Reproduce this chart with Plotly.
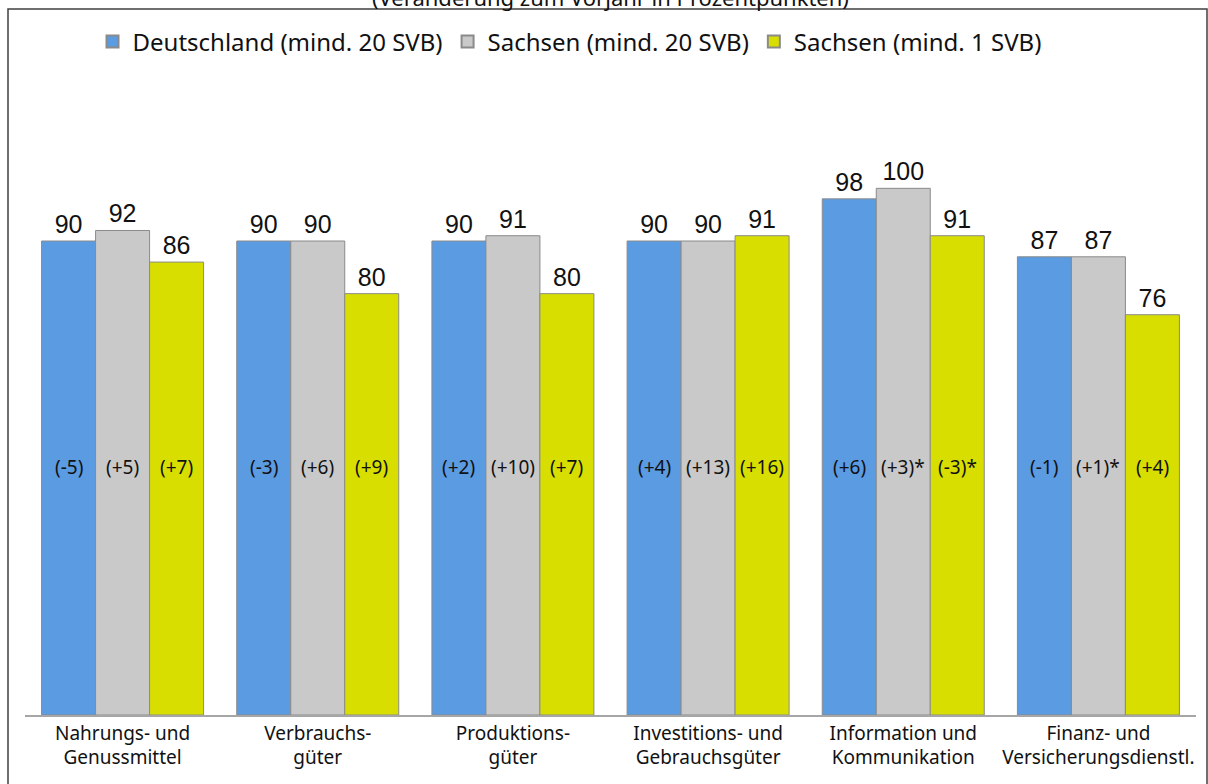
import plotly.graph_objects as go

categories = ["Nahrungs- und<br>Genussmittel", "Verbrauchs-<br>güter", "Produktions-<br>güter",
              "Investitions- und<br>Gebrauchsgüter", "Information und<br>Kommunikation",
              "Finanz- und<br>Versicherungsdienstl."]
series_names = ["Deutschland (mind. 20 SVB)", "Sachsen (mind. 20 SVB)", "Sachsen (mind. 1 SVB)"]
de20 = [90, 90, 90, 90, 98, 87]
sn20 = [92, 90, 91, 90, 100, 87]
sn1 = [86, 80, 80, 91, 91, 76]
de20_chg = ["(-5)", "(-3)", "(+2)", "(+4)", "(+6)", "(-1)"]
sn20_chg = ["(+5)", "(+6)", "(+10)", "(+13)", "(+3)*", "(+1)*"]
sn1_chg = ["(+7)", "(+9)", "(+7)", "(+16)", "(-3)*", "(+4)"]
subtitle = "(Veränderung zum Vorjahr in Prozentpunkten)"

colors = ["#5b9be2", "#c9c9c9", "#d8df00"]
values = [de20, sn20, sn1]
changes = [de20_chg, sn20_chg, sn1_chg]

x = list(range(len(categories)))
bargap = 0.17
bw = (1 - bargap) / 3

fig = go.Figure()
for j in range(3):
    fig.add_trace(go.Bar(
        x=x, y=values[j], name=series_names[j],
        marker=dict(color=colors[j], line=dict(color="#8a8a8a", width=1)),
        text=[str(v) for v in values[j]], textposition="outside",
        textfont=dict(family="Liberation Sans", size=25, color="#111"),
        cliponaxis=False,
    ))

annotations = []
for j in range(3):
    for i in range(len(categories)):
        annotations.append(dict(
            x=i + (j - 1) * bw, y=47, xref="x", yref="y", text=changes[j][i],
            showarrow=False, font=dict(family="Noto Sans", size=19, color="#111"),
        ))
annotations.append(dict(x=0.5, y=(715 + 3) / 632, xref="paper", yref="paper", text=subtitle,
                        yanchor="middle", showarrow=False,
                        font=dict(family="Noto Sans", size=22, color="#111")))
fig.update_layout(annotations=annotations)

fig.add_shape(type="rect", xref="paper", yref="paper",
              x0=(8 - 25) / 1171, x1=(1207 - 25) / 1171,
              y0=(715 - 800) / 632, y1=(715 - 9) / 632,
              line=dict(color="#404040", width=1.5), fillcolor="rgba(0,0,0,0)")

fig.update_layout(
    width=1208, height=784,
    margin=dict(l=25, r=12, t=83, b=69),
    paper_bgcolor="white", plot_bgcolor="white",
    barmode="group", bargap=bargap, bargroupgap=0,
    showlegend=True,
    legend=dict(orientation="h", x=0.465, xanchor="center", y=(715 - 42) / 632, yanchor="middle",
                font=dict(family="Noto Sans", size=24, color="#111"),
                itemsizing="constant", traceorder="normal"),
    xaxis=dict(tickmode="array", tickvals=x, ticktext=categories,
               range=[-0.5, 5.5], showline=True, linecolor="#a6a6a6", linewidth=1.5,
               ticks="", tickfont=dict(family="Noto Sans", size=19, color="#111"),
               showgrid=False, zeroline=False),
    yaxis=dict(range=[0, 120], visible=False, showgrid=False, zeroline=False),
)

fig.write_html("out.html")
